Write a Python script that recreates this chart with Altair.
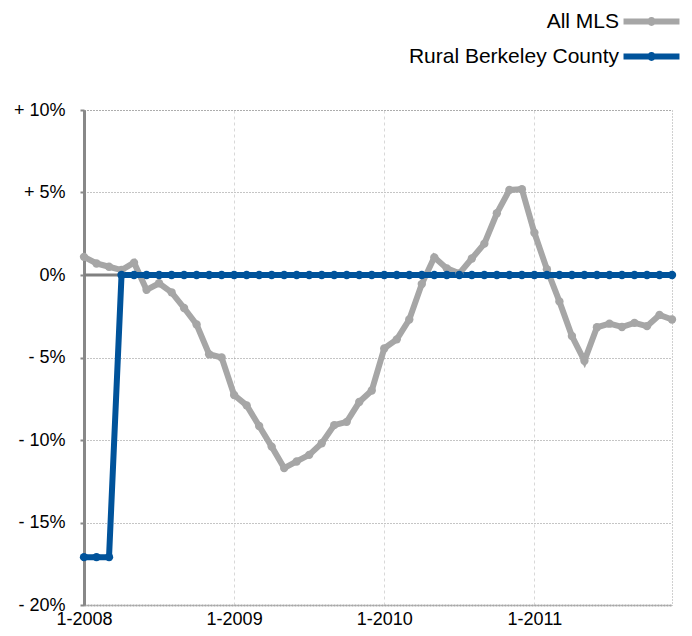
import altair as alt
import pandas as pd

series_names = ["All MLS", "Rural Berkeley County"]
series_colors = ["#a6a6a6", "#00539b"]

# monthly values, Jan 2008 .. Dec 2011 (percent change)
all_mls = [1.1, 0.7, 0.5, 0.3, 0.75, -0.9, -0.5, -1.05, -2.0, -3.0, -4.8, -5.0,
           -7.27, -7.9, -9.15, -10.4, -11.7, -11.3, -10.9, -10.2, -9.1, -8.9, -7.7, -7.0,
           -4.45, -3.9, -2.7, -0.55, 1.07, 0.4, 0.1, 1.0, 1.9, 3.74, 5.15, 5.2,
           2.56, 0.35, -1.6, -3.7, -5.2, -3.17, -2.95, -3.15, -2.9, -3.1, -2.42, -2.7]
rural = [-17.1, -17.1, -17.1, 0, 0, 0, 0, 0, 0, 0, 0, 0,
         0, 0, 0, 0, 0, 0, 0, 0, 0, 0, 0, 0,
         0, 0, 0, 0, 0, 0, 0, 0, 0, 0, 0, 0,
         0, 0, 0, 0, 0, 0, 0, 0, 0, 0, 0, 0]
year_ticks = [0, 12, 24, 36]
y_ticks = [10, 5, 0, -5, -10, -15, -20]

rows = []
for name, vals in zip(series_names, [all_mls, rural]):
    for i, v in enumerate(vals):
        rows.append({"m": i, "v": v, "series": name})
df = pd.DataFrame(rows)

FONT = "Liberation Sans"

x_enc = alt.X("m:Q", scale=alt.Scale(domain=[0, 47], nice=False, zero=False),
              axis=alt.Axis(values=year_ticks, title=None,
                            labelExpr="'1-' + (2008 + datum.value / 12)",
                            labelFont=FONT, labelFontSize=18, labelColor="#000",
                            labelPadding=5, ticks=False, labelFlush=False,
                            grid=True, gridColor="#d8d8d8", gridDash=[3, 3], gridWidth=1,
                            domainColor="#a8a8a8", domainWidth=2, domainDash=[2, 1]))
y_enc = alt.Y("v:Q", scale=alt.Scale(domain=[-20, 10], nice=False),
              axis=alt.Axis(values=y_ticks, title=None,
                            labelExpr="datum.value > 0 ? '+ ' + datum.value + '%' : (datum.value < 0 ? '- ' + abs(datum.value) + '%' : '0%')",
                            labelFont=FONT, labelFontSize=18, labelColor="#000",
                            labelPadding=15, tickSize=4, tickColor="#888", tickWidth=2,
                            grid=True, gridColor="#8a8a8a", gridDash=[1, 2], gridWidth=1,
                            domainColor="#888", domainWidth=3))

zero = alt.Chart(pd.DataFrame({"z": [0]})).mark_rule(color="#808080", strokeWidth=3).encode(
    y=alt.Y("z:Q", scale=alt.Scale(domain=[-20, 10], nice=False))
)

lines = alt.Chart(df).mark_line(
    strokeWidth=6,
    point=alt.OverlayMarkDef(filled=True, size=70, opacity=1),
).encode(
    x=x_enc,
    y=y_enc,
    color=alt.Color("series:N",
                    scale=alt.Scale(domain=series_names, range=series_colors),
                    legend=alt.Legend(title=None, orient="none", legendX=555, legendY=-101,
                                      labelFont=FONT, labelFontSize=21, labelColor="#000",
                                      labelAlign="right", labelOffset={"expr": "-45"},
                                      labelLimit=400,
                                      symbolType="M-3,0H3M0.15,0A0.15,0.15 0 1,1 -0.15,0A0.15,0.15 0 1,1 0.15,0",
                                      symbolSize=348, symbolStrokeWidth=6,
                                      rowPadding=8, padding=0)),
)

chart = alt.layer(zero, lines).properties(
    width=588, height=495,
    autosize=alt.AutoSizeParams(type="none"),
    padding={"left": 76, "top": 102, "right": 12, "bottom": 23},
).configure_view(stroke="#a0a0a0", strokeDash=[1, 2], strokeWidth=1)

chart.save("out.html", embed_options={"renderer": "svg", "actions": False})
